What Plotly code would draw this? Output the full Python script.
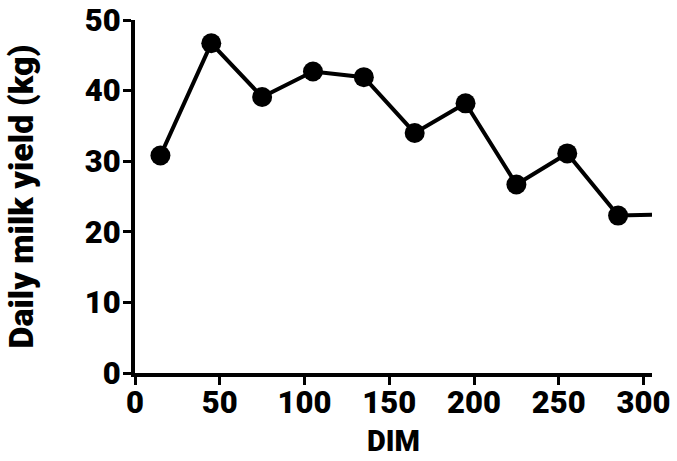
import plotly.graph_objects as go

dim = [15, 45, 75, 105, 135, 165, 195, 225, 255, 285, 305]
milk_yield = [30.8, 46.7, 39.1, 42.7, 41.9, 34.0, 38.2, 26.7, 31.1, 22.3, 22.4]
marker_sizes = [20] * 10 + [0]
x_ticks = [0, 50, 100, 150, 200, 250, 300]
y_ticks = [0, 10, 20, 30, 40, 50]
x_title = "DIM"
y_title = "Daily milk yield (kg)"

font_family = "Roboto"
font_size = 31

fig = go.Figure()
fig.add_trace(go.Scatter(
    x=dim, y=milk_yield, mode="lines+markers",
    line=dict(color="black", width=4),
    marker=dict(color="black", size=marker_sizes, opacity=1, line=dict(width=0)),
    cliponaxis=False, showlegend=False,
))

label_font = dict(family=font_family, size=font_size, color="black", weight=900)

axis_common = dict(
    showline=True, linecolor="black", linewidth=4,
    ticks="outside", ticklen=8, tickwidth=3, tickcolor="black",
    showgrid=False, zeroline=False, automargin=False,
    tickfont=label_font,
)

fig.update_layout(
    width=677, height=461,
    margin=dict(l=135, r=25, t=20, b=88, autoexpand=False),
    paper_bgcolor="white", plot_bgcolor="white",
    xaxis=dict(range=[0, 305], tickvals=x_ticks, ticklabelstandoff=-9,
               **axis_common),
    yaxis=dict(range=[0, 50], tickvals=y_ticks, ticklabelstandoff=-4,
               title=dict(text=y_title, standoff=42,
                          font=dict(family=font_family, size=34, color="black", weight=900)),
               **axis_common),
    annotations=[dict(
        text=x_title, font=dict(family=font_family, size=29, color="black", weight=900),
        showarrow=False,
        xref="paper", yref="paper", x=0.5, y=-0.2465,
        xanchor="center", yanchor="bottom",
    )],
)

fig.write_html("out.html", config={"displayModeBar": False},
               post_script="document.body.style.margin='0';")
